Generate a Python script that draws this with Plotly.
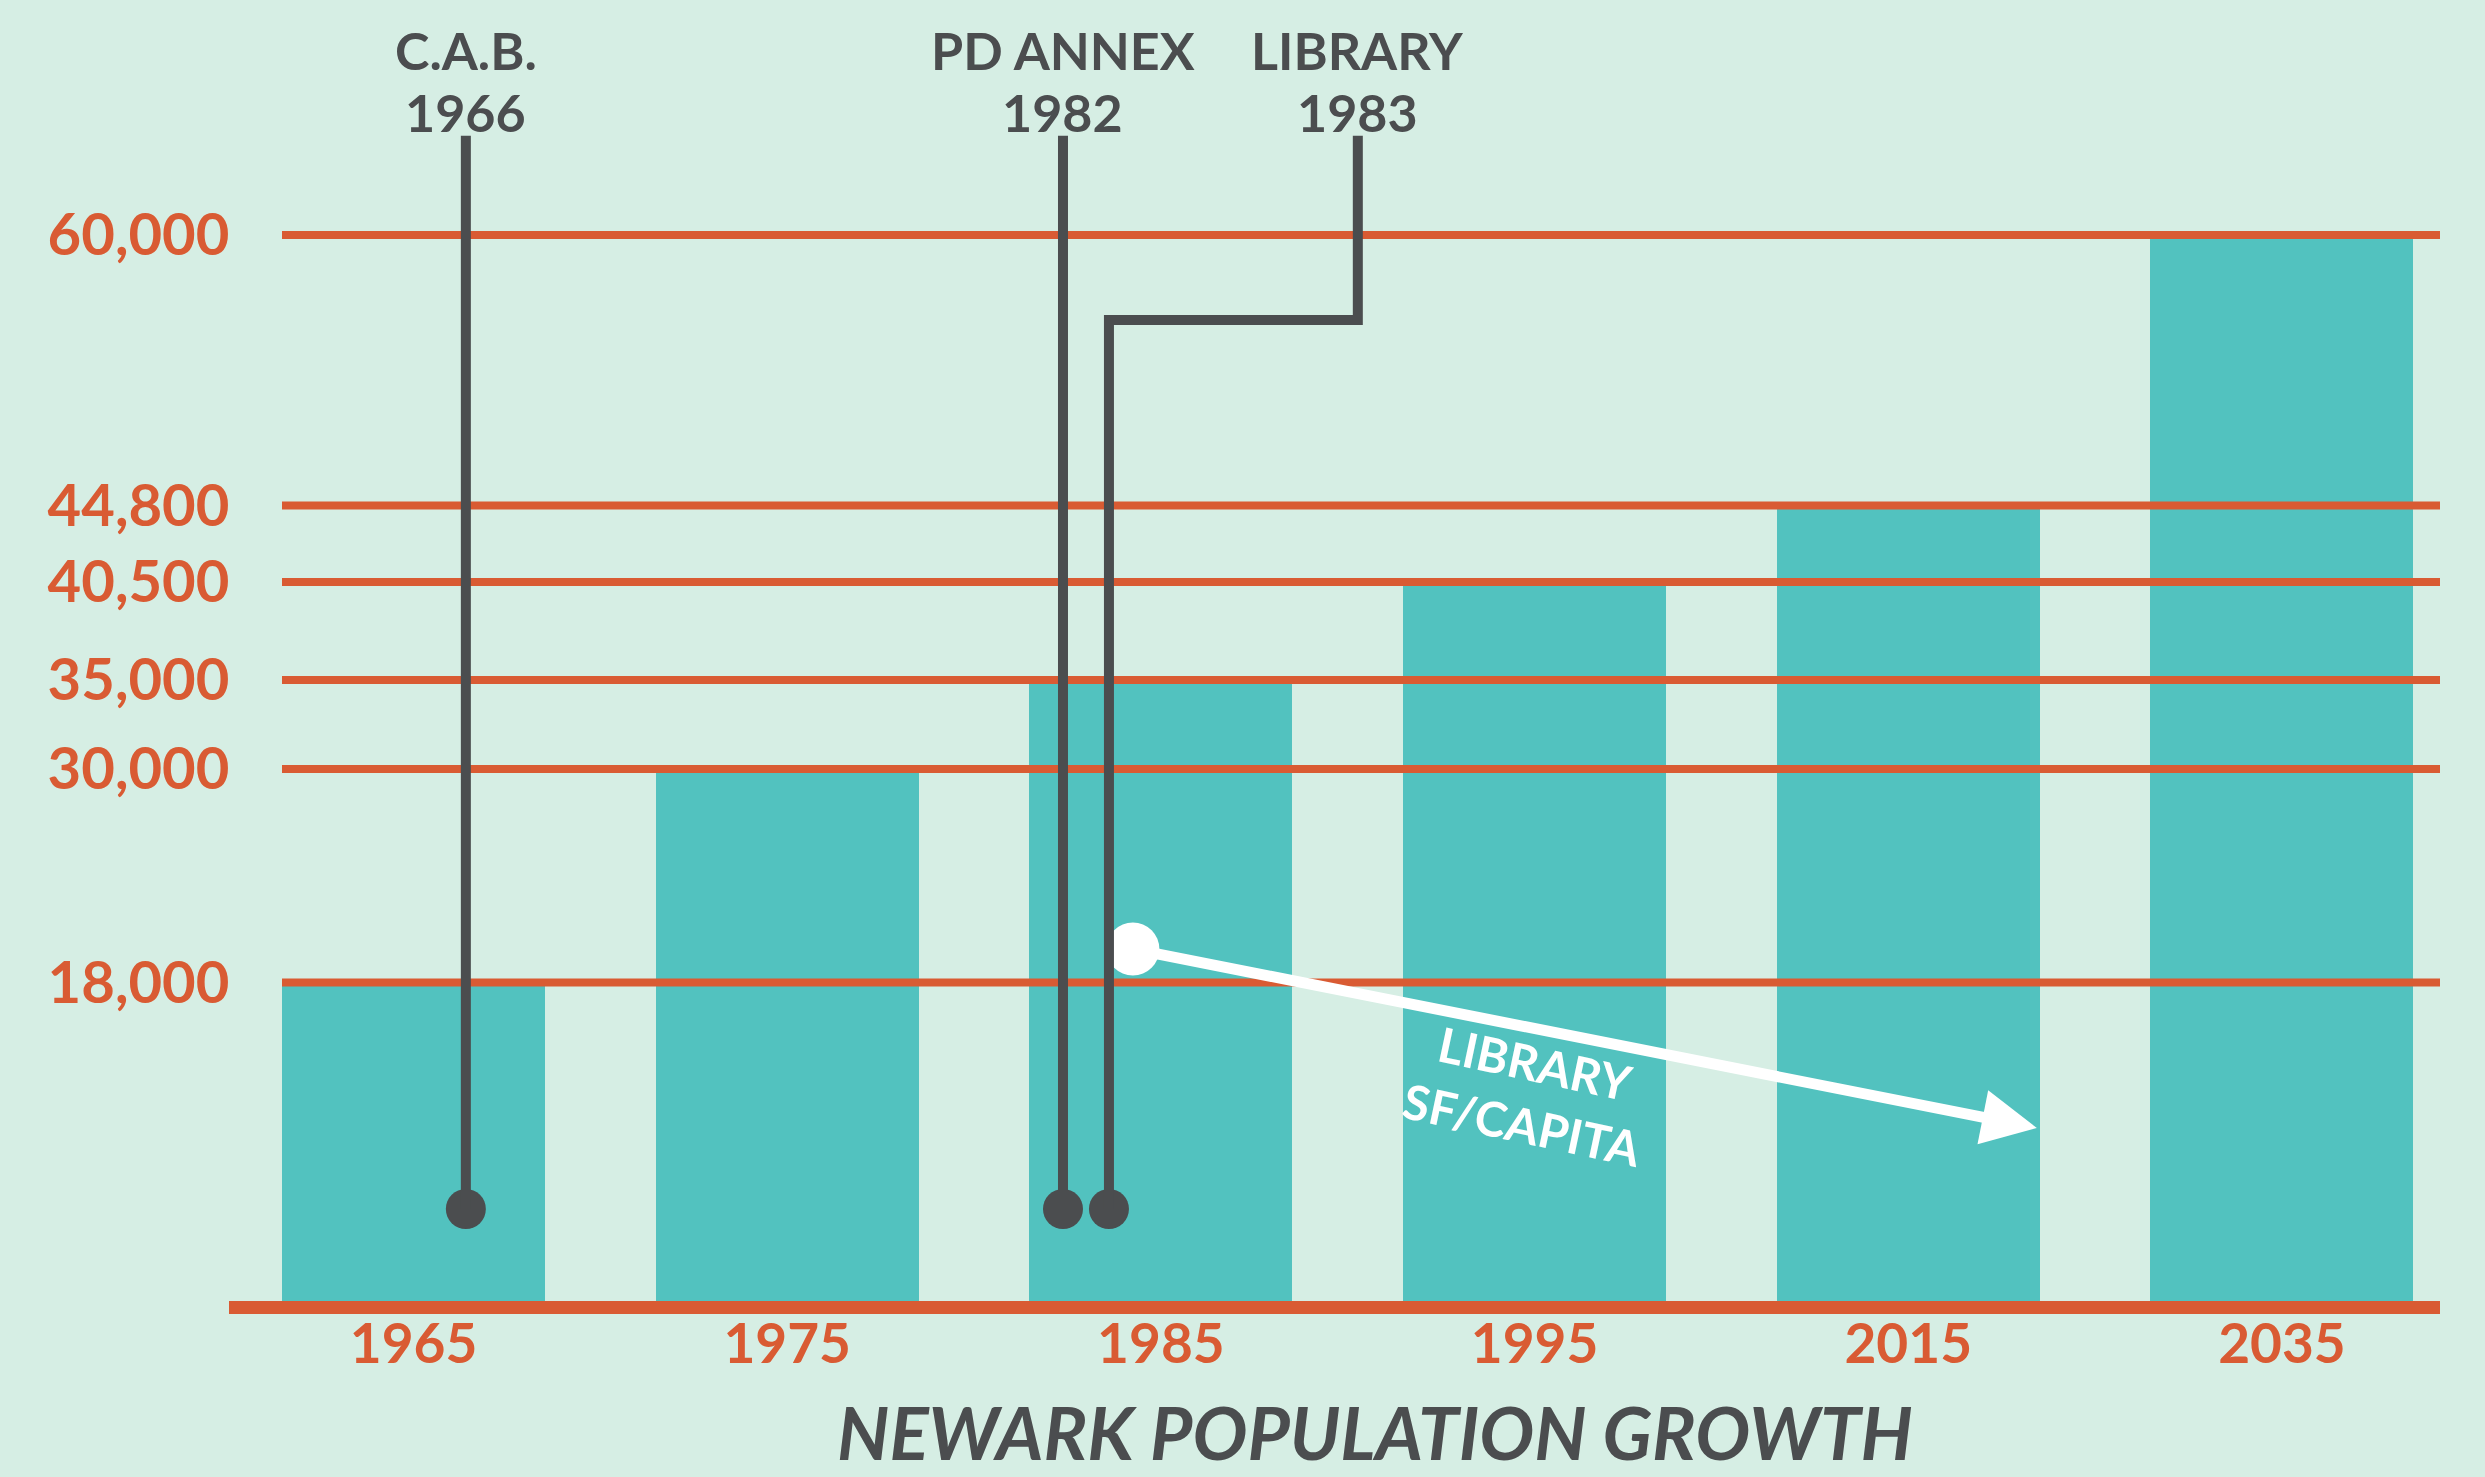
import plotly.graph_objects as go

# ---------------- data ----------------
years = ["1965", "1975", "1985", "1995", "2015", "2035"]
population = [18000, 30000, 35000, 40500, 44800, 60000]
tick_values = [18000, 30000, 35000, 40500, 44800, 60000]
tick_labels = ["18,000", "30,000", "35,000", "40,500", "44,800", "60,000"]

event_names = ["C.A.B.", "PD ANNEX", "LIBRARY"]
event_years = [1966, 1982, 1983]

arrow_label = "LIBRARY<br>SF/CAPITA"
chart_title = "NEWARK POPULATION GROWTH"

# ---------------- style ----------------
BG = "#d6eee4"
TEAL = "#52c2bf"
ORANGE = "#d95b33"
GRAY = "#4b4d4f"
WHITE = "#ffffff"
FONT = "Lato"

W, H = 2485, 1477
ML, MR, MT, MB = 282, 45, 100, 163
X_RANGE = [-0.352, 5.423]
Y_RANGE = [-618, 67584]

# layout positions for the timeline markers (axis units)
EVENT_X = [0.14, 1.738, 1.861]
DOT_Y = 5281
LINE_TOP = 65580
JOG_Y = 55225
LIB_LABEL_X = 2.527
ARROW_START = (1.925, 19888)
ARROW_END = (4.344, 9832)
ARROW_TEXT_POS = (2.985, 11742)

x_idx = list(range(len(years)))
ev_x = EVENT_X
label_x = [ev_x[0], ev_x[1], LIB_LABEL_X]

fig = go.Figure()

fig.add_trace(go.Bar(
    x=x_idx, y=population, width=0.704,
    marker=dict(color=TEAL, line=dict(width=0)),
    hoverinfo="skip", showlegend=False,
))

# timeline dots
fig.add_trace(go.Scatter(
    x=ev_x, y=[DOT_Y] * len(ev_x), mode="markers",
    marker=dict(color=GRAY, size=40, line=dict(width=0)),
    hoverinfo="skip", showlegend=False,
))
# arrow start dot
fig.add_trace(go.Scatter(
    x=[ARROW_START[0]], y=[ARROW_START[1]], mode="markers",
    marker=dict(color=WHITE, size=53, line=dict(width=0)),
    hoverinfo="skip", showlegend=False,
))

shapes = []
for v in tick_values:
    shapes.append(dict(type="line", xref="paper", x0=0, x1=1, yref="y", y0=v, y1=v,
                       line=dict(color=ORANGE, width=8), layer="above"))
# baseline
shapes.append(dict(type="rect", xref="paper", yref="paper",
                   x0=(229 - ML) / (W - ML - MR), x1=1, y0=0, y1=13 / (H - MT - MB),
                   fillcolor=ORANGE, line=dict(width=0), layer="above"))
# timeline lines
for i in range(2):
    shapes.append(dict(type="line", xref="x", yref="y", x0=ev_x[i], x1=ev_x[i],
                       y0=DOT_Y, y1=LINE_TOP, line=dict(color=GRAY, width=10), layer="above"))
shapes.append(dict(type="path", xref="x", yref="y",
                   path=f"M {LIB_LABEL_X},{LINE_TOP} L {LIB_LABEL_X},{JOG_Y} L {ev_x[2]},{JOG_Y} L {ev_x[2]},{DOT_Y}",
                   line=dict(color=GRAY, width=10), layer="above"))

annotations = []
plot_h = H - MT - MB
for name, yr, lx in zip(event_names, event_years, label_x):
    annotations.append(dict(text=name, x=lx, xref="x", y=(H - MB - 50) / plot_h, yref="paper",
                            yanchor="middle", xanchor="center", showarrow=False, borderpad=0,
                            font=dict(family=FONT, size=52, color=GRAY, weight=700)))
    annotations.append(dict(text=str(yr), x=lx, xref="x", y=(H - MB - 112) / plot_h, yref="paper",
                            yanchor="middle", xanchor="center", showarrow=False, borderpad=0,
                            font=dict(family=FONT, size=52, color=GRAY, weight=700)))

annotations.append(dict(text="", x=ARROW_END[0], y=ARROW_END[1], xref="x", yref="y",
                        ax=ARROW_START[0], ay=ARROW_START[1], axref="x", ayref="y",
                        showarrow=True, arrowhead=2, arrowsize=1, arrowwidth=11,
                        arrowcolor=WHITE, standoff=0, startstandoff=0))
annotations.append(dict(text=arrow_label, x=ARROW_TEXT_POS[0], y=ARROW_TEXT_POS[1],
                        xref="x", yref="y", showarrow=False, textangle=12,
                        font=dict(family=FONT, size=48, color=WHITE, weight=700)))

fig.update_layout(
    width=W, height=H,
    margin=dict(l=ML, r=MR, t=MT, b=MB, pad=0),
    paper_bgcolor=BG, plot_bgcolor=BG,
    bargap=0,
    shapes=shapes, annotations=annotations,
    title=dict(text=chart_title, x=(1375 - ML) / (W - ML - MR), xref="paper", xanchor="center",
               y=1 - 1434 / H, yref="container", yanchor="middle",
               font=dict(family=FONT, size=73, color=GRAY, weight=700, style="italic")),
    xaxis=dict(range=X_RANGE, tickmode="array", tickvals=x_idx, ticktext=years,
               showgrid=False, zeroline=False, showline=False, ticks="",
               ticklabelstandoff=-7,
               tickfont=dict(family=FONT, size=55, color=ORANGE, weight=700)),
    yaxis=dict(range=Y_RANGE, tickmode="array", tickvals=tick_values, ticktext=tick_labels,
               showgrid=False, zeroline=False, showline=False,
               ticks="outside", ticklen=40, tickcolor=BG, tickwidth=1,
               tickfont=dict(family=FONT, size=58, color=ORANGE, weight=700)),
    hovermode=False,
)

fig.write_html(
    "out.html",
    config={"displayModeBar": False},
    post_script="document.body.style.margin='0';document.body.style.overflow='hidden';",
)
